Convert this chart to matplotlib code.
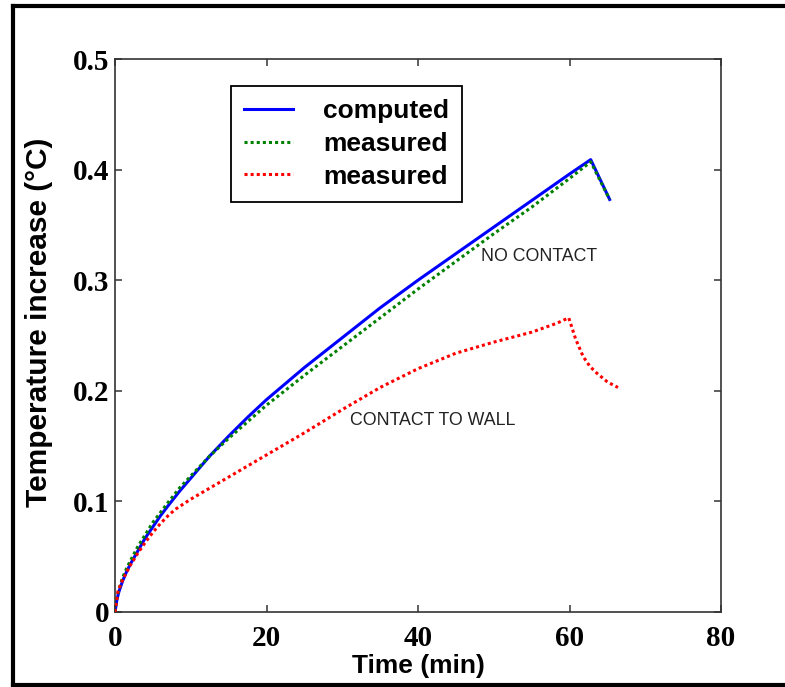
import matplotlib
matplotlib.use('Agg')
import matplotlib.pyplot as plt
from matplotlib.lines import Line2D

# computed curve (blue)
t_comp = [0, 0.25, 0.5, 1, 1.5, 2, 3, 4, 5, 6, 7, 8.5, 10, 12.5, 15, 17.5, 20, 25, 30,
          35, 40, 45, 50, 55, 60, 62.8, 65.3]
T_comp = [0, 0.011, 0.018, 0.028, 0.036, 0.043, 0.055, 0.067, 0.077, 0.087, 0.096,
          0.109, 0.121, 0.141, 0.159, 0.176, 0.192, 0.221, 0.248, 0.275, 0.300, 0.324,
          0.348, 0.372, 0.396, 0.409, 0.373]

# measured, no contact (green)
t_free = [0, 0.25, 0.5, 1, 1.5, 2, 3, 4, 5, 6, 7, 8.5, 10, 12.5, 15, 17.5, 20, 25, 30,
          35, 40, 45, 50, 55, 60, 62.8, 65.3]
T_free = [0, 0.013, 0.020, 0.031, 0.039, 0.046, 0.059, 0.070, 0.081, 0.090, 0.099,
          0.112, 0.123, 0.141, 0.157, 0.172, 0.187, 0.214, 0.240, 0.266, 0.292, 0.317,
          0.342, 0.366, 0.392, 0.407, 0.373]

# measured, contact to wall (red)
t_wall = [0, 0.4, 1, 2, 3, 4, 5, 6, 7, 8, 10, 12, 14, 16, 18, 20, 22.5, 25, 30, 35,
          40, 45, 50, 55, 58.3, 59.9, 60.8, 61.8, 62.7, 63.6, 65, 66.4]
T_wall = [0, 0.019, 0.029, 0.042, 0.053, 0.063, 0.072, 0.080, 0.087, 0.093, 0.102,
          0.110, 0.118, 0.126, 0.134, 0.142, 0.152, 0.162, 0.183, 0.203, 0.220, 0.234,
          0.244, 0.253, 0.261, 0.266, 0.247, 0.231, 0.222, 0.216, 0.208, 0.203]

legend_labels = ['computed', 'measured', 'measured']
x_ticks = [0, 20, 40, 60, 80]
y_ticks = [0, 0.1, 0.2, 0.3, 0.4, 0.5]
y_ticklabels = ['0', '0.1', '0.2', '0.3', '0.4', '0.5']

W, H = 785, 687
fig = plt.figure(figsize=(W / 100, H / 100), dpi=100)
ax = fig.add_axes([115 / W, 1 - 612 / H, (721 - 115) / W, (612 - 59) / H])

dots = (0, (1, 1))
ax.plot(t_free, T_free, color='#008000', lw=2.2, linestyle=dots, label=legend_labels[1], zorder=3)
ax.plot(t_comp, T_comp, color='#0000ff', lw=2.2, label=legend_labels[0], zorder=2)
ax.plot(t_wall, T_wall, color='#ff0000', lw=2.2, linestyle=dots, label=legend_labels[2], zorder=3)

ax.set_xlim(0, 80)
ax.set_ylim(0, 0.5)
ax.set_xticks(x_ticks)
ax.set_yticks(y_ticks)
ax.set_yticklabels(y_ticklabels)
ax.tick_params(direction='in', length=5, width=1.1, color='#333333',
               top=True, right=True)
ax.tick_params(axis='x', pad=9)
ax.tick_params(axis='y', pad=4)
for lab in ax.get_xticklabels() + ax.get_yticklabels():
    lab.set_fontfamily('Liberation Serif')
    lab.set_fontweight('bold')
    lab.set_fontsize(21)
for sp in ax.spines.values():
    sp.set_color('#333333')
    sp.set_linewidth(1.2)

ax.set_xlabel('Time (min)', fontfamily='Liberation Sans', fontweight='bold',
              fontsize=19, labelpad=2)
ax.set_ylabel('Temperature increase (°C)', fontfamily='Liberation Sans',
              fontweight='bold', fontsize=21.5)
ax.yaxis.set_label_coords(-0.102, 0.524)

ax.text(48.3, 0.321, 'NO CONTACT', fontfamily='Liberation Sans', fontsize=12.8,
        ha='left', va='center', color='#222222')
ax.text(31.0, 0.173, 'CONTACT TO WALL', fontfamily='Liberation Sans', fontsize=12.8,
        ha='left', va='center', color='#222222')

handles, labels = ax.get_legend_handles_labels()
order = [1, 0, 2]
leg = ax.legend([handles[i] for i in order], [labels[i] for i in order],
                loc='upper left', bbox_to_anchor=(0.191, 0.951),
                prop={'family': 'Liberation Sans', 'weight': 'bold', 'size': 19},
                frameon=True, fancybox=False, edgecolor='black', framealpha=1,
                handlelength=1.85, handletextpad=1.15, borderpad=0.5,
                labelspacing=0.33, borderaxespad=0)
leg.get_frame().set_linewidth(1.3)

# outer frame of the picture (no right side visible)
fx = lambda px: px / W
fy = lambda py: 1 - py / H
kw = dict(color='black', lw=3, transform=fig.transFigure, solid_capstyle='projecting')
fig.lines.append(Line2D([fx(13), fx(13)], [fy(6), fy(685)], **kw))
fig.lines.append(Line2D([fx(13), fx(800)], [fy(6), fy(6)], **kw))
fig.lines.append(Line2D([fx(13), fx(800)], [fy(685), fy(685)], **kw))

fig.savefig('out.png', dpi=100)
